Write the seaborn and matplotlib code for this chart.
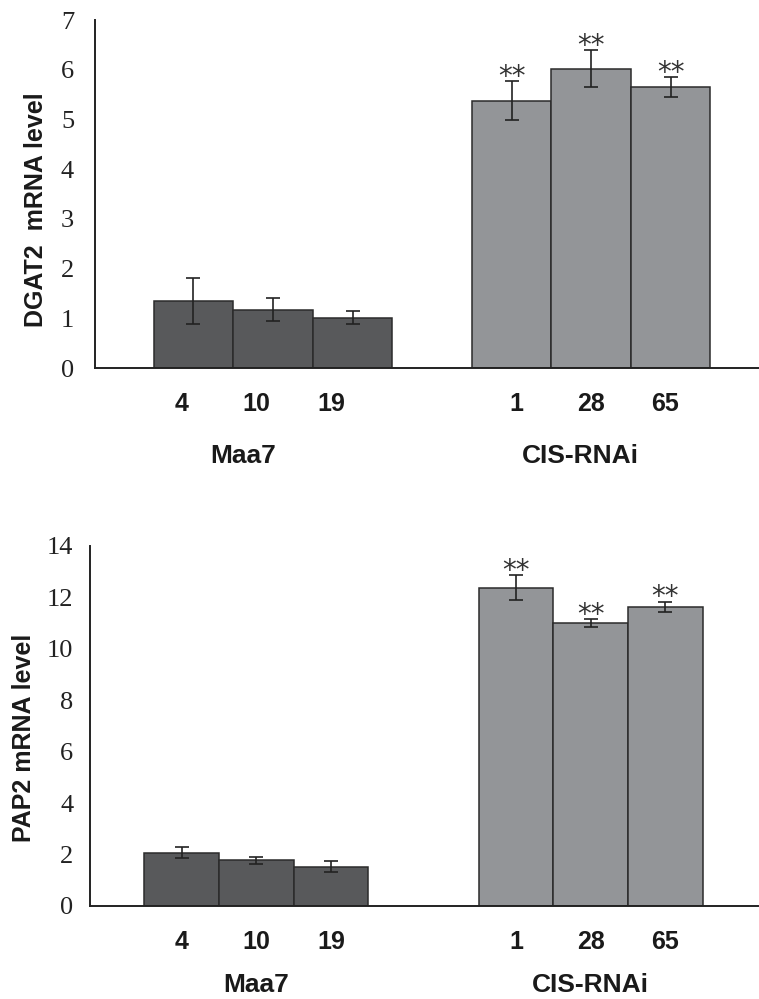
import pandas as pd
import matplotlib
matplotlib.use('Agg')
import matplotlib.pyplot as plt
import seaborn as sns

groups = ['Maa7', 'CIS-RNAi']
samples = [['4', '10', '19'], ['1', '28', '65']]

dgat2_mean = [1.35, 1.17, 1.01, 5.38, 6.02, 5.65]
dgat2_sd = [0.47, 0.23, 0.13, 0.39, 0.37, 0.20]
pap2_mean = [2.08, 1.77, 1.53, 12.38, 11.01, 11.64]
pap2_sd = [0.21, 0.15, 0.22, 0.50, 0.15, 0.20]
stars = ['', '', '', '**', '**', '**']

group_col = {'Maa7': '#58595b', 'CIS-RNAi': '#939598'}

rows = []
for g, labs in zip(groups, samples):
    for i, s in enumerate(labs):
        rows.append({'group': g, 'rank': i, 'sample': s})
df = pd.DataFrame(rows)
df['dgat2'] = dgat2_mean
df['dgat2_sd'] = dgat2_sd
df['pap2'] = pap2_mean
df['pap2_sd'] = pap2_sd
df['star'] = stars

sns.set_style('white')
plt.rcParams['font.family'] = ['Liberation Serif', 'DejaVu Serif']

fig = plt.figure(figsize=(7.59, 9.99), dpi=100)
ax1 = fig.add_axes([0.125, 0.6316, 0.875, 0.3483])
ax2 = fig.add_axes([0.1186, 0.0931, 0.880, 0.3604])

sans = ['Liberation Sans', 'DejaVu Sans']
ink = '#1a1a1a'


def panel(ax, col, ylab, ymax, ystep, width, xlim, lab_x, lab_y, ytick_pad, minor):
    sns.barplot(data=df, x='group', y=col, hue='rank', order=groups, width=width,
                dodge=True, edgecolor='#2b2b2b', linewidth=1.1, legend=False,
                errorbar=None, ax=ax, saturation=1)
    bars = sorted(ax.patches, key=lambda p: p.get_x())
    xs = []
    for p, g in zip(bars, df['group']):
        p.set_facecolor(group_col[g])
        xs.append(p.get_x() + p.get_width() / 2)
    ax.errorbar(xs, df[col], yerr=df[col + '_sd'], fmt='none', ecolor='#222222',
                elinewidth=1.2, capsize=5, capthick=1.2, zorder=5)
    for x, m, s, st in zip(xs, df[col], df[col + '_sd'], df['star']):
        if st:
            ax.annotate(st, xy=(x, m + s), xytext=(0, 3), textcoords='offset points',
                        ha='center', va='center', fontsize=20, color='#333333',
                        family=['DejaVu Sans'])
    ax.set_xlim(*xlim)
    ax.set_ylim(0, ymax)
    ax.set_yticks(range(0, ymax + 1, ystep))
    ax.tick_params(axis='y', direction='in', length=5, width=1.1, pad=ytick_pad,
                   labelsize=19, colors='#222222')
    if minor:
        ax.set_xticks(minor, minor=True)
        ax.tick_params(axis='x', which='minor', direction='in', length=4, width=1.1)
    ax.set_xlabel('')
    ax.set_ylabel(ylab, fontsize=18, fontweight='bold', family=sans, color=ink)
    ax.yaxis.set_label_coords(lab_x, lab_y)
    sns.despine(ax=ax)
    for sp in ['left', 'bottom']:
        ax.spines[sp].set_linewidth(1.4)
        ax.spines[sp].set_color('#222222')
    return xs


def labels(ax, xs, gx, goff):
    ax.set_xticks(xs)
    ax.set_xticklabels(df['sample'], fontsize=18, fontweight='bold', family=sans)
    ax.tick_params(axis='x', which='major', length=0, pad=17, colors=ink)
    for x, g in zip(gx, groups):
        ax.annotate(g, xy=(x, 0), xycoords=('data', 'axes fraction'),
                    xytext=(0, -goff), textcoords='offset points', ha='center',
                    va='center', fontsize=19, fontweight='bold', family=sans,
                    color=ink)


xs1 = panel(ax1, 'dgat2', 'DGAT2  mRNA level', 7, 1, 0.75, (-0.56, 1.528),
            -0.071, 0.454, 15, None)
xs2 = panel(ax2, 'pap2', 'PAP2 mRNA level', 14, 2, 0.67, (-0.497, 1.5),
            -0.081, 0.467, 12, [0.5, 1.5])


# the top panel's sample labels line up with the bottom panel's bars
def to_top(vals):
    out = []
    for v in vals:
        px = ax2.transData.transform((v, 0))[0]
        out.append(ax1.transData.inverted().transform((px, 0))[0])
    return out


labels(ax2, xs2, [0, 1], 57)
labels(ax1, to_top(xs2), to_top([-0.04, 0.97]), 63)

fig.savefig('out.png', dpi=100)
